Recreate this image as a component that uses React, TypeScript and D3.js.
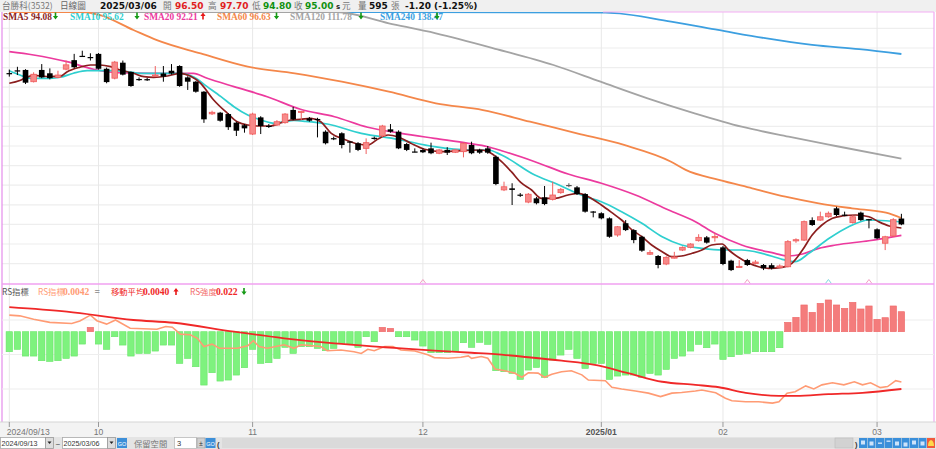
import React from "react";
import * as d3 from "d3";

// ---------------- data ----------------
const xTickIdx = [0, 11, 30, 51, 73, 88, 107];
const xTickLabels = ["2024/09/13", "10", "11", "12", "2025/01", "02", "03"];
const xTickBold = [false, false, false, false, true, false, false];

const opens = [133.6,134.3,134.4,131.4,134.4,133.55,132.5,134.6,136.9,138.0,137.7,138.5,134.7,132.3,136.25,133.9,132.1,132.05,132.9,133.5,134.2,135.4,132.5,131.4,128.85,123.2,123.5,123.15,120.95,120.3,118.05,122.3,120.15,120.35,120.95,124.2,123.7,122.05,121.9,118.65,117.0,118.25,116.15,115.7,114.4,117.1,117.55,119.25,118.65,115.5,113.6,114.0,114.4,113.15,114.0,113.4,113.55,115.25,114.0,114.4,112.25,103.8,104.2,102.6,100.7,101.65,101.9,101.4,103.1,105.05,104.45,102.75,98.3,97.85,96.55,92.3,95.3,93.55,91.85,87.4,86.95,84.9,86.45,88.45,89.15,90.85,91.7,91.7,89.15,85.75,84.1,85.9,85.0,84.65,84.6,84.0,84.2,90.9,91.0,96.1,96.1,96.95,99.1,97.5,95.45,98.0,96.35,93.75,90.2,92.05,96.5];
const highs = [134.5,135.2,134.6,133.8,135.9,134.8,134.2,136.8,138.5,139.3,138.65,138.7,135.0,136.7,136.8,134.0,132.5,132.4,135.4,135.4,135.9,135.6,132.8,131.6,129.0,124.0,123.7,123.4,121.2,120.6,123.5,122.6,120.6,121.6,123.4,125.0,123.9,122.4,122.2,119.0,117.4,118.5,116.2,116.0,116.95,117.4,120.4,120.6,119.0,115.8,114.4,114.4,115.85,114.2,114.7,114.2,115.9,116.1,114.3,115.0,112.6,105.9,105.5,103.0,103.0,102.0,104.8,105.9,104.3,105.5,104.8,103.0,98.4,98.1,96.8,94.6,96.1,93.8,92.1,88.45,87.2,86.9,88.0,89.4,90.2,92.5,92.05,92.75,89.5,86.0,85.9,86.2,85.9,84.9,85.1,84.8,91.0,91.45,96.0,96.8,98.25,98.3,99.5,98.25,97.3,98.25,96.4,94.0,92.1,96.6,97.7];
const lows = [132.7,133.1,130.8,131.2,132.3,132.0,132.3,134.3,134.8,137.8,136.8,134.5,131.0,132.0,133.0,130.1,131.6,131.6,132.8,131.4,133.2,130.1,129.3,128.6,120.9,122.9,121.2,119.1,117.55,118.4,117.8,118.05,119.6,120.1,120.7,121.6,121.6,121.2,117.2,115.4,116.5,114.4,113.3,113.7,112.95,116.6,117.3,118.4,114.2,113.7,113.4,113.2,112.9,112.9,112.7,113.2,112.1,112.9,113.0,113.0,105.0,103.5,99.95,102.0,100.4,100.1,99.9,101.1,102.8,104.5,102.5,98.0,96.8,96.3,91.6,91.85,93.3,90.2,88.0,87.2,83.8,84.6,86.3,88.2,88.9,90.6,90.1,90.6,84.6,83.1,84.0,84.4,84.8,83.35,83.5,83.8,84.0,90.3,90.8,94.6,95.9,96.7,97.1,97.1,95.2,95.9,94.0,91.2,88.45,91.8,94.8];
const closes = [133.5,134.2,131.15,133.3,132.5,132.3,133.1,135.7,135.1,137.9,137.6,134.7,131.3,136.4,133.2,130.3,132.0,131.95,133.1,132.7,133.5,130.3,131.4,128.85,121.8,123.6,121.45,119.8,118.9,119.5,123.15,120.1,120.05,121.2,123.15,121.8,123.85,121.45,121.7,115.7,116.9,115.25,116.05,114.0,115.85,116.8,120.1,118.65,114.4,114.0,113.5,113.4,113.15,114.0,113.3,114.0,115.7,113.15,113.3,113.3,105.3,104.6,103.8,102.4,102.7,100.4,100.2,102.5,103.95,105.05,102.75,98.25,98.2,96.55,91.85,94.4,93.55,91.0,88.3,87.8,84.65,86.6,86.7,89.15,90.0,91.7,90.35,91.9,84.9,83.35,84.3,84.65,85.4,83.8,83.8,84.4,90.6,91.1,95.7,94.85,96.95,97.85,97.4,97.35,96.95,96.1,96.25,91.45,91.85,96.2,95.0];

// moving averages: [bar index, price]
const sma5 = [[0,131.0],[1.3,131.7],[2.1,132.5],[3,133.0],[5,132.7],[6.3,132.8],[7.1,133.9],[8.7,135.1],[10,135.66],[11.2,135.66],[12.5,135.23],[13.7,134.39],[15.3,133.55],[16.6,132.68],[17.8,132.53],[19.5,132.86],[21.1,133.55],[22.3,132.86],[23.6,131.0],[25.2,126.73],[26.9,123.34],[28.1,121.2],[29.4,120.36],[31,120.1],[32.2,120.1],[33.5,120.94],[34.7,121.63],[35.9,121.8],[37.2,122.07],[38.4,121.2],[39.7,118.24],[41.3,116.71],[43,115.51],[44.2,115.26],[45.4,116.71],[46.7,117.81],[47.9,117.37],[49.5,115.69],[51.2,114.16],[53.3,113.55],[55.7,113.8],[58.2,113.98],[59.4,113.14],[60.7,111.0],[61.9,108.45],[63.1,105.64],[64.4,103.78],[65.6,101.66],[67.3,101.66],[68.9,102.5],[70.2,102.93],[71.4,102.07],[73,99.95],[74.3,98.0],[75.5,96.12],[76.7,93.75],[78,91.86],[79.2,89.75],[80.5,88.04],[81.7,86.76],[82.9,86.94],[84.2,87.63],[85.4,88.47],[86.6,89.75],[87.9,90.0],[88.7,88.47],[89.9,86.61],[91.2,85.08],[92.4,84.21],[93.6,83.8],[95.3,84.06],[96.5,85.08],[97.8,88.47],[99,92.3],[100.2,94.85],[101.5,96.56],[102.7,97.14],[104.4,97.4],[106,96.96],[107.2,95.69],[108.5,94.59],[110,94.08]];
const sma10 = [[0,134.21],[1.3,133.11],[2.6,132.27],[5,132.27],[6.3,132.53],[7.9,133.55],[9.6,134.21],[11.2,134.21],[12.9,134.21],[14.5,133.95],[16.2,133.55],[18.6,133.55],[21.1,133.55],[22.8,132.53],[24.4,130.13],[26.1,127.58],[27.7,125.03],[29.4,122.91],[31,121.63],[32.7,120.79],[33.9,121.2],[35.1,121.5],[36.5,121.3],[39.2,120.61],[43.4,118.24],[47.9,116.71],[52.4,114.82],[56.6,113.98],[59,113.98],[60.7,112.7],[64.8,107.6],[67.3,105.48],[71,102.07],[73,100.79],[75.5,98.24],[78,95.28],[80.5,91.86],[82.9,89.75],[85.4,88.9],[87.9,88.47],[90.3,88.47],[92.8,87.63],[95.3,86.1],[96.9,85.48],[98.6,87.63],[101.1,91.45],[103.5,94.41],[106,96.12],[108.1,95.94],[110,95.62]];
const sma20 = [[0,139.06],[3,138.21],[7.1,136.51],[10.4,134.57],[13.3,133.7],[17.4,133.55],[22.7,133.55],[24.4,132.27],[27.7,130.13],[31.8,127.58],[35.9,124.36],[40.1,122.47],[44.2,119.77],[48.3,118.24],[52.4,116.96],[56.6,115.69],[59,114.82],[60.7,113.8],[64.8,111.0],[68.9,107.86],[73,105.5],[77.2,102.5],[81.3,98.67],[84.6,95.69],[87,92.73],[90.3,89.75],[94.4,87.63],[96,86.94],[97.8,87.45],[99.8,88.9],[101.9,89.75],[106,90.84],[110,92.21]];
const sma60 = [[0,156.0],[5,153.0],[9,150.3],[11.2,148.4],[15.3,144.6],[18.2,142.0],[23.6,138.6],[29.4,135.23],[35.2,133.55],[41,131.4],[46.8,128.85],[52.6,125.89],[58.4,124.18],[64.2,121.2],[70,118.24],[75.8,115.26],[81.6,111.0],[83.4,108.9],[87.5,106.33],[91.6,104.21],[95.7,102.07],[99.8,100.38],[103.9,99.11],[108.1,97.98],[110,96.63]];
const sma120 = [[0,168.0],[20,158.0],[35,151.5],[40.4,149.26],[46.8,146.3],[52.6,143.75],[60.2,139.67],[67.1,135.66],[72.9,131.4],[78.7,127.17],[84.5,123.34],[90.3,119.92],[96.1,117.37],[101.9,115.0],[110,111.78]];
const sma240 = [[0,175.0],[40,163.0],[73.5,149.0],[81.6,146.7],[87.4,144.6],[93.2,142.5],[99,140.8],[104.8,139.7],[110,138.47]];

const smaNames = ["SMA5", "SMA10", "SMA20", "SMA60", "SMA120", "SMA240"];
const smaValues = ["94.08", "95.62", "92.21", "96.63", "111.78", "138.47"];
const smaUp = [false, false, true, false, false, false];

// RS indicator panel
const rsStrength = [-0.0220,-0.0194,-0.0268,-0.0268,-0.0319,-0.0327,-0.0319,-0.0294,-0.0268,-0.0136,0.0048,-0.0136,-0.0194,-0.0055,-0.0147,-0.0268,-0.0239,-0.0239,-0.0213,-0.0147,-0.0147,-0.0349,-0.0294,-0.0385,-0.0587,-0.0451,-0.0543,-0.0532,-0.0477,-0.0396,-0.0194,-0.0349,-0.0341,-0.0294,-0.0172,-0.0239,-0.0165,-0.0165,-0.0184,-0.0209,-0.0184,-0.0128,-0.0136,-0.0172,-0.0055,-0.0110,0.0048,0.0037,-0.0055,-0.0055,-0.0092,-0.0158,-0.0231,-0.0231,-0.0231,-0.0220,-0.0121,-0.0172,-0.0117,-0.0139,-0.0429,-0.0440,-0.0459,-0.0525,-0.0422,-0.0393,-0.0503,-0.0312,-0.0257,-0.0194,-0.0294,-0.0404,-0.0349,-0.0349,-0.0525,-0.0488,-0.0477,-0.0477,-0.0503,-0.0459,-0.0477,-0.0415,-0.0294,-0.0268,-0.0213,-0.0139,-0.0176,-0.0136,-0.0305,-0.0275,-0.0250,-0.0239,-0.0220,-0.0220,-0.0220,-0.0176,0.0103,0.0158,0.0294,0.0213,0.0312,0.0349,0.0294,0.0257,0.0323,0.0250,0.0283,0.0136,0.0154,0.0283,0.0220];
const rsLine = [[0,0.00614],[1.3,0.00612],[3,0.00602],[5,0.00593],[7.7,0.0059],[8.7,0.00597],[10,0.00614],[10.8,0.00598],[12,0.00588],[13.1,0.006],[14.9,0.00576],[18.2,0.00573],[19.3,0.00581],[20.1,0.00579],[21.1,0.00559],[22.3,0.00557],[23.2,0.00547],[24,0.00523],[25,0.0053],[25.9,0.00518],[28.1,0.00518],[29.4,0.00525],[30.1,0.0054],[30.8,0.00523],[31.8,0.00518],[33.9,0.00528],[35.1,0.00518],[36,0.00528],[38.4,0.00523],[39.2,0.00511],[40.9,0.00513],[42.5,0.00508],[43.4,0.00503],[44.2,0.00515],[45,0.00511],[46.3,0.00523],[47.3,0.00523],[48.3,0.00513],[50,0.0051],[51.6,0.00499],[52.4,0.00491],[54.1,0.00489],[55.7,0.00492],[56.6,0.00496],[57,0.00489],[58.2,0.00494],[59,0.00489],[59.9,0.00458],[61.1,0.00453],[62.3,0.00446],[63.2,0.00434],[64,0.00447],[65.2,0.00446],[66,0.00434],[66.9,0.00443],[68.1,0.0045],[69.3,0.00453],[70.6,0.00441],[71.4,0.00426],[73.5,0.00424],[74.3,0.00405],[75.5,0.004],[77.2,0.00394],[78.8,0.00388],[80.3,0.00378],[81.7,0.00388],[82.9,0.0039],[84.6,0.00394],[85.4,0.00397],[87.1,0.00389],[88.3,0.00373],[89.1,0.00366],[90.8,0.00363],[92.4,0.00363],[94.1,0.00359],[94.9,0.00363],[95.9,0.00388],[96.9,0.00392],[98.2,0.00409],[99.2,0.004],[100.2,0.00412],[101.5,0.00418],[102.9,0.00412],[104.2,0.00421],[105.2,0.00412],[106.2,0.00418],[107.4,0.00404],[108.3,0.00407],[109.3,0.00424],[110,0.0042]];
const rsMa = [[0,0.00637],[7.1,0.00624],[15.3,0.006],[20.3,0.00592],[27.7,0.00566],[33.9,0.00547],[40.1,0.00532],[46.3,0.00521],[52.4,0.00511],[57,0.00505],[59.9,0.00501],[64,0.00492],[68.1,0.00482],[72.2,0.0047],[76.3,0.00446],[80.5,0.00421],[84.6,0.00412],[87.5,0.00405],[90.8,0.00389],[94.9,0.0038],[97,0.0038],[101,0.00385],[105.2,0.00389],[110,0.004]];

const priceGrid = [85, 90, 95, 100, 105, 110, 115, 120, 125, 130, 135, 140, 145];
const rsGrid = [0.004, 0.005, 0.006];
const markerIdx = [51, 91, 101, 106];
const markerCyan = [false, false, true, false];

// ---------------- layout ----------------
const W = 936, H = 449;
const PL = 2, PR = 934;
const mainTop = 12, mainBot = 284;
const subTop = 284, subBot = 422;

const x = d3.scaleLinear().domain([0, 110]).range([9.3, 901.4]);
const yP = d3.scaleLinear().domain([79.8, 149.18]).range([mainBot, mainTop]);
const yPc = yP.copy().clamp(true);
const yRS = d3.scaleLinear().domain([0.003043, 0.007043]).range([subBot, subTop]);
const yH = d3.scaleLinear().domain([-0.09933, 0.05247]).range([subBot, subTop]);

const smaLine = d3.line<number[]>().x(d => x(d[0])).y(d => yPc(d[1])).curve(d3.curveMonotoneX);
const rsPath = d3.line<number[]>().x(d => x(d[0])).y(d => yRS(d[1]));
const rsMaPath = d3.line<number[]>().x(d => x(d[0])).y(d => yRS(d[1])).curve(d3.curveMonotoneX);

const smaSeries = [sma5, sma10, sma20, sma60, sma120, sma240];
const smaColors = ["#8B1E1E", "#2FCFCF", "#EC3A9E", "#F4874A", "#A4A4A4", "#3C9FE0"];

const CJK = "'Noto Sans CJK TC', 'Noto Sans CJK SC', sans-serif";
const NUM = "'DejaVu Sans', sans-serif";
const LEG = "'Liberation Serif', serif";

function Arrow({ cx, base, up, color }: { cx: number; base: number; up: boolean; color: string }) {
  const p = up
    ? `M${cx},${base - 7} L${cx + 2.6},${base - 3.6} L${cx + 0.8},${base - 3.6} L${cx + 0.8},${base} L${cx - 0.8},${base} L${cx - 0.8},${base - 3.6} L${cx - 2.6},${base - 3.6} Z`
    : `M${cx},${base} L${cx + 2.6},${base - 3.4} L${cx + 0.8},${base - 3.4} L${cx + 0.8},${base - 7} L${cx - 0.8},${base - 7} L${cx - 0.8},${base - 3.4} L${cx - 2.6},${base - 3.4} Z`;
  return <path d={p} fill={color} />;
}

export default function App() {
  const bw = 5.6;
  const legX = [3, 70, 144, 217, 290, 380];
  const arrowX = [55.5, 137, 203, 276.5, 361, 437];

  const toolIcons = [0, 1, 2, 3, 4, 5, 6, 7, 8];

  return (
    <>
      <style>{"body{margin:0;overflow:hidden;background:#fff}"}</style>
      <svg width={W} height={H} viewBox={`0 0 ${W} ${H}`} style={{ display: "block" }}>
        <defs>
          <clipPath id="mainClip">
            <rect x={PL} y={mainTop} width={PR - PL} height={mainBot - mainTop} />
          </clipPath>
          <clipPath id="subClip">
            <rect x={PL} y={subTop} width={PR - PL} height={subBot - subTop} />
          </clipPath>
        </defs>

        {/* header band */}
        <rect x={0} y={0} width={W} height={mainTop} fill="#F0F0F0" />
        <text x={2} y={9} fontFamily={CJK} fontSize={8.6} fill="#777">台勝科(3532)</text>
        <text x={60} y={9} fontFamily={CJK} fontSize={8.6} fill="#666">日線圖</text>
        <text x={100} y={9.3} fontFamily={NUM} fontWeight="bold" fontSize={9} fill="#111">2025/03/06</text>
        <text x={163} y={9} fontFamily={CJK} fontSize={8.6} fill="#777">開</text>
        <text x={175} y={9.3} fontFamily={NUM} fontWeight="bold" fontSize={9} fill="#E02020">96.50</text>
        <text x={208} y={9} fontFamily={CJK} fontSize={8.6} fill="#777">高</text>
        <text x={220} y={9.3} fontFamily={NUM} fontWeight="bold" fontSize={9} fill="#E02020">97.70</text>
        <text x={252} y={9} fontFamily={CJK} fontSize={8.6} fill="#777">低</text>
        <text x={263} y={9.3} fontFamily={NUM} fontWeight="bold" fontSize={9} fill="#109010">94.80</text>
        <text x={294} y={9} fontFamily={CJK} fontSize={8.6} fill="#777">收</text>
        <text x={305} y={9.3} fontFamily={NUM} fontWeight="bold" fontSize={9} fill="#109010">95.00</text>
        <text x={336} y={9.3} fontFamily={NUM} fontWeight="bold" fontSize={7} fill="#222">s</text>
        <text x={342} y={9} fontFamily={CJK} fontSize={8.6} fill="#777">元</text>
        <text x={358} y={9} fontFamily={CJK} fontSize={8.6} fill="#777">量</text>
        <text x={369} y={9.3} fontFamily={NUM} fontWeight="bold" fontSize={9} fill="#111">595</text>
        <text x={391} y={9} fontFamily={CJK} fontSize={8.6} fill="#777">張</text>
        <text x={405} y={9.3} fontFamily={NUM} fontWeight="bold" fontSize={9} fill="#111">-1.20 (-1.25%)</text>

        {/* main panel background + grid */}
        <rect x={PL} y={mainTop} width={PR - PL} height={mainBot - mainTop} fill="#fff" />
        {priceGrid.map(p => (
          <line key={"pg" + p} x1={PL} x2={PR} y1={yP(p)} y2={yP(p)} stroke="#EEEEEE" strokeWidth={1.2} />
        ))}
        {xTickIdx.map((t, k) => (
          <line key={"vg" + k} x1={x(t)} x2={x(t)} y1={mainTop} y2={subBot} stroke="#E8E8E8" strokeWidth={1} />
        ))}

        {/* moving averages */}
        <g clipPath="url(#mainClip)">
          {[5, 4, 3, 2, 1, 0].map(k => (
            <path key={"sma" + k} d={smaLine(smaSeries[k] as any) || ""} fill="none" stroke={smaColors[k]} strokeWidth={k >= 3 ? 1.8 : 1.7} />
          ))}
        </g>

        {/* candles */}
        <g>
          {closes.map((c, i) => {
            const o = opens[i];
            const up = c > o + 0.05;
            const doji = Math.abs(c - o) <= 0.05;
            const col = up ? "#F06060" : doji ? "#555" : "#000";
            const top = yP(Math.max(o, c));
            const h = Math.max(1.2, Math.abs(yP(o) - yP(c)));
            return (
              <g key={"c" + i}>
                <line x1={x(i)} x2={x(i)} y1={yP(highs[i])} y2={yP(lows[i])} stroke={col} strokeWidth={1} />
                <rect x={x(i) - bw / 2} y={top} width={bw} height={h}
                  fill={up ? "#F78A8A" : doji ? "#555" : "#000"} stroke={up ? "#F05C5C" : "none"} strokeWidth={0.8} />
              </g>
            );
          })}
        </g>

        {/* top clamped SMA240 along edge is included; legend */}
        {smaNames.map((n, k) => (
          <g key={"leg" + k}>
            <text x={legX[k]} y={19.8} fontFamily={LEG} fontWeight="bold" fontSize={9.4} fill={smaColors[k]}>
              {n} {smaValues[k]}
            </text>
            <Arrow cx={arrowX[k]} base={19.5} up={smaUp[k]} color={smaUp[k] ? "#E81818" : "#159A15"} />
          </g>
        ))}

        {/* panel borders */}
        <line x1={PL} x2={PL} y1={mainTop} y2={subBot} stroke="#E48CEB" strokeWidth={1.2} />
        <line x1={PR} x2={PR} y1={mainTop} y2={subBot} stroke="#F0A8F0" strokeWidth={1.2} />
        <line x1={603} x2={PR} y1={mainTop} y2={mainTop} stroke="#F3AEF3" strokeWidth={1.2} />

        {/* event markers at panel bottom */}
        {markerIdx.map((m, k) => (
          <path key={"mk" + k} d={`M${x(m) - 3},${mainBot - 0.5} L${x(m)},${mainBot - 4.5} L${x(m) + 3},${mainBot - 0.5}`}
            fill="none" stroke={markerCyan[k] ? "#7FD8E0" : "#F2A0C4"} strokeWidth={1} />
        ))}

        {/* separator */}
        <line x1={PL} x2={PR} y1={subTop} y2={subTop} stroke="#F0A0F0" strokeWidth={1.6} />

        {/* sub panel */}
        {rsGrid.map(v => (
          <line key={"rg" + v} x1={PL} x2={PR} y1={yRS(v)} y2={yRS(v)} stroke="#EEEEEE" strokeWidth={1.2} />
        ))}
        <g clipPath="url(#subClip)">
          {rsStrength.map((v, i) => {
            const pos = v >= 0;
            const y0 = yH(0), y1 = yH(v);
            return (
              <rect key={"h" + i} x={x(i) - 3.2} y={Math.min(y0, y1)} width={6.4} height={Math.max(1, Math.abs(y1 - y0))}
                fill={pos ? "#F47C7C" : "#7EF27E"} stroke={pos ? "#EE6666" : "#66E466"} strokeWidth={0.6} />
            );
          })}
          <path d={rsPath(rsLine as any) || ""} fill="none" stroke="#FF9B74" strokeWidth={1.6} />
          <path d={rsMaPath(rsMa as any) || ""} fill="none" stroke="#F02828" strokeWidth={1.8} />
        </g>

        {/* sub legend */}
        <text x={2} y={295} fontFamily={CJK} fontSize={8.3} fill="#555">RS指標</text>
        <text x={38} y={295} fontFamily={CJK} fontSize={8.3} fill="#FF9B74">RS指標</text>
        <text x={63} y={295.3} fontFamily={LEG} fontWeight="bold" fontSize={9.6} fill="#FF9B74">0.0042</text>
        <text x={94.5} y={295.3} fontFamily={LEG} fontWeight="bold" fontSize={9.6} fill="#888">=</text>
        <text x={111} y={295} fontFamily={CJK} fontSize={8.3} fill="#F02828">移動平均</text>
        <text x={143} y={295.3} fontFamily={LEG} fontWeight="bold" fontSize={9.6} fill="#F02828">0.0040</text>
        <Arrow cx={176} base={295} up={true} color="#E81818" />
        <text x={190} y={295} fontFamily={CJK} fontSize={8.3} fill="#F26A6A">RS強度</text>
        <text x={216} y={295.3} fontFamily={LEG} fontWeight="bold" fontSize={9.6} fill="#F02828">0.022</text>
        <Arrow cx={244} base={295} up={false} color="#159A15" />

        {/* x axis strip */}
        <rect x={0} y={subBot} width={W} height={437 - subBot} fill="#F3F3F3" />
        <line x1={0} x2={W} y1={subBot} y2={subBot} stroke="#D6D6D6" strokeWidth={1.2} />
        {xTickIdx.map((t, k) => (
          <g key={"xt" + k}>
            <line x1={x(t)} x2={x(t)} y1={subBot} y2={subBot + 5} stroke="#999" strokeWidth={1} />
            <text x={k === 0 ? x(t) - 2.6 : x(t)} y={435} textAnchor={k === 0 ? "start" : "middle"}
              fontFamily="'Liberation Sans', sans-serif" fontSize={8.6} fontWeight={xTickBold[k] ? "bold" : "normal"}
              fill={xTickBold[k] ? "#555" : "#777"}>{xTickLabels[k]}</text>
          </g>
        ))}

        {/* bottom toolbar */}
        <rect x={0} y={437} width={W} height={12} fill="#E4E4E4" />
        <rect x={0.5} y={437.5} width={45} height={11} fill="#fff" stroke="#AAA" strokeWidth={0.8} />
        <text x={1.5} y={446} fontFamily="'Liberation Sans', sans-serif" fontSize={7.2} fill="#333">2024/09/13</text>
        <rect x={45.5} y={437.5} width={8} height={11} fill="#DDD" stroke="#999" strokeWidth={0.8} />
        <path d="M47.5,441.5 L51.5,441.5 L49.5,444 Z" fill="#222" />
        <text x={55.5} y={446.5} fontFamily="'Liberation Sans', sans-serif" fontSize={8} fill="#333">~</text>
        <rect x={62.5} y={437.5} width={45} height={11} fill="#fff" stroke="#AAA" strokeWidth={0.8} />
        <text x={63.5} y={446} fontFamily="'Liberation Sans', sans-serif" fontSize={7.2} fill="#333">2025/03/06</text>
        <rect x={107.5} y={437.5} width={8} height={11} fill="#DDD" stroke="#999" strokeWidth={0.8} />
        <path d="M109.5,441.5 L113.5,441.5 L111.5,444 Z" fill="#222" />
        <rect x={117} y={438} width={10} height={10} fill="#3D8FD8" />
        <text x={122} y={446} textAnchor="middle" fontFamily="'Liberation Sans', sans-serif" fontSize={5.5} fill="#fff">GO</text>
        <text x={134} y={446.5} fontFamily={CJK} fontSize={8.3} fill="#777">保留空間</text>
        <rect x={174.5} y={437.5} width={22} height={11} fill="#fff" stroke="#BBB" strokeWidth={0.8} />
        <text x={177} y={446} fontFamily="'Liberation Sans', sans-serif" fontSize={7.5} fill="#333">3</text>
        <rect x={197} y={438} width={8} height={10} fill="#D0D0D0" stroke="#999" strokeWidth={0.6} />
        <text x={201} y={446} textAnchor="middle" fontFamily="'Liberation Sans', sans-serif" fontSize={7} fill="#333">±</text>
        <rect x={205.5} y={438} width={10} height={10} fill="#3D8FD8" />
        <text x={210.5} y={446} textAnchor="middle" fontFamily="'Liberation Sans', sans-serif" fontSize={5.5} fill="#fff">GO</text>
        <text x={217} y={446.5} fontFamily="'Liberation Sans', sans-serif" fontSize={7.5} fontWeight="bold" fill="#333">(</text>
        <rect x={222} y={438} width={613} height={10} fill="#DADADA" />
        <rect x={835} y={438} width={18} height={10} fill="#D2D2D2" stroke="#BBB" strokeWidth={0.6} />
        <text x={855} y={446.5} fontFamily="'Liberation Sans', sans-serif" fontSize={7.5} fontWeight="bold" fill="#333">)</text>
        {toolIcons.map(k => (
          <g key={"ti" + k}>
            <rect x={859 + k * 8.5} y={438} width={8} height={10} fill={k === 8 ? "#F05A3C" : "#3A8FDA"} />
            {k === 8 ? (
              <path d={`M${859 + k * 8.5 + 4},${440} Q${859 + k * 8.5 + 7},${441} ${859 + k * 8.5 + 7},${446} L${859 + k * 8.5 + 1},${446} Q${859 + k * 8.5 + 1},${441} ${859 + k * 8.5 + 4},${440} Z`} fill="#FFD84A" />
            ) : (
              <rect x={859 + k * 8.5 + 2} y={440.5 + (k % 3)} width={4} height={k === 2 || k === 3 ? 1.4 : 4} fill="#E8F2FF" opacity={0.85} />
            )}
          </g>
        ))}
      </svg>
    </>
  );
}
